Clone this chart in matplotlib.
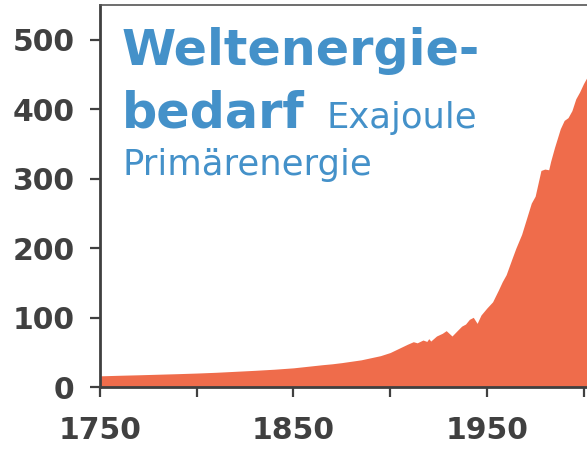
import matplotlib
matplotlib.use("Agg")
import matplotlib.pyplot as plt

years = [1750, 1760, 1770, 1780, 1790, 1800, 1810, 1820, 1830, 1840,
         1850, 1855, 1860, 1865, 1870, 1875, 1880, 1885, 1890, 1895,
         1900, 1903, 1906, 1909, 1912, 1914, 1917, 1919, 1920, 1921,
         1924, 1927, 1929, 1932, 1935, 1937, 1939, 1941, 1943, 1945,
         1947, 1950, 1953, 1956, 1958, 1960, 1963, 1965, 1968, 1970,
         1973, 1975, 1978, 1980, 1982, 1983, 1985, 1988, 1990, 1992,
         1994, 1996, 1998, 2000, 2002]
energy_ej = [16.5, 17.3, 18.0, 18.8, 19.6, 20.5, 21.6, 23.0, 24.4, 26.0,
             28.0, 29.5, 31.0, 32.5, 33.8, 35.5, 37.5, 39.5, 42.5, 45.5,
             50.0, 54.0, 58.0, 62.0, 65.6, 64.0, 68.0, 66.0, 70.0, 66.5,
             73.8, 77.7, 81.5, 73.8, 82.4, 88.0, 91.0, 97.8, 100.7, 92.0,
             104.0, 114.0, 123.0, 140.0, 152.0, 162.0, 185.0, 200.0, 220.0, 238.0,
             265.0, 275.0, 312.0, 314.0, 313.0, 325.0, 345.0, 372.0, 384.0, 388.0,
             398.0, 415.0, 425.0, 437.0, 447.0]

xticks = [1750, 1800, 1850, 1900, 1950, 2000]
xticklabels = ["1750", "", "1850", "", "1950", ""]
yticks = [0, 100, 200, 300, 400, 500]

title_line1 = "Weltenergie-"
title_line2 = "bedarf"
unit_text = "Exajoule"
sub_text = "Primärenergie"

W, H = 587, 450
fig = plt.figure(figsize=(W / 100, H / 100), dpi=100)
ax = fig.add_axes([100 / W, 1 - 387.3 / H, (W - 100) / W, (387.3 - 4.7) / H])

ax.fill_between(years, energy_ej, 0, color="#ef6c4b", linewidth=0)
ax.set_xlim(1750, 1750 + (W - 100) / 1.934)
ax.set_ylim(0, 550.5)

grey = "#404040"
for s in ["left", "bottom"]:
    ax.spines[s].set_color(grey)
    ax.spines[s].set_linewidth(2)
ax.spines["top"].set_color("#555555")
ax.spines["top"].set_linewidth(1.2)
ax.spines["right"].set_visible(False)

ax.set_xticks(xticks)
ax.set_xticklabels(xticklabels)
ax.set_yticks(yticks)
ax.tick_params(axis="both", direction="out", length=7.5, width=1.6, color=grey,
               labelcolor=grey, labelsize=21.5)
ax.tick_params(axis="y", pad=11)
ax.tick_params(axis="x", pad=13)
for lab in ax.get_xticklabels() + ax.get_yticklabels():
    lab.set_fontfamily("DejaVu Sans")
    lab.set_fontweight("bold")

blue = "#4491c9"
fig.text(122 / W, 1 - 65 / H, title_line1, color=blue, fontsize=35.5,
         fontfamily="DejaVu Sans", fontweight="bold", va="baseline", ha="left")
fig.text(122 / W, 1 - 128 / H, title_line2, color=blue, fontsize=35.5,
         fontfamily="DejaVu Sans", fontweight="bold", va="baseline", ha="left")
fig.text(327 / W, 1 - 128 / H, unit_text, color=blue, fontsize=25.5,
         fontfamily="DejaVu Sans", fontweight="normal", va="baseline", ha="left")
fig.text(122 / W, 1 - 175 / H, sub_text, color=blue, fontsize=25.5,
         fontfamily="DejaVu Sans", fontweight="normal", va="baseline", ha="left")

fig.savefig("out.png", dpi=100)
